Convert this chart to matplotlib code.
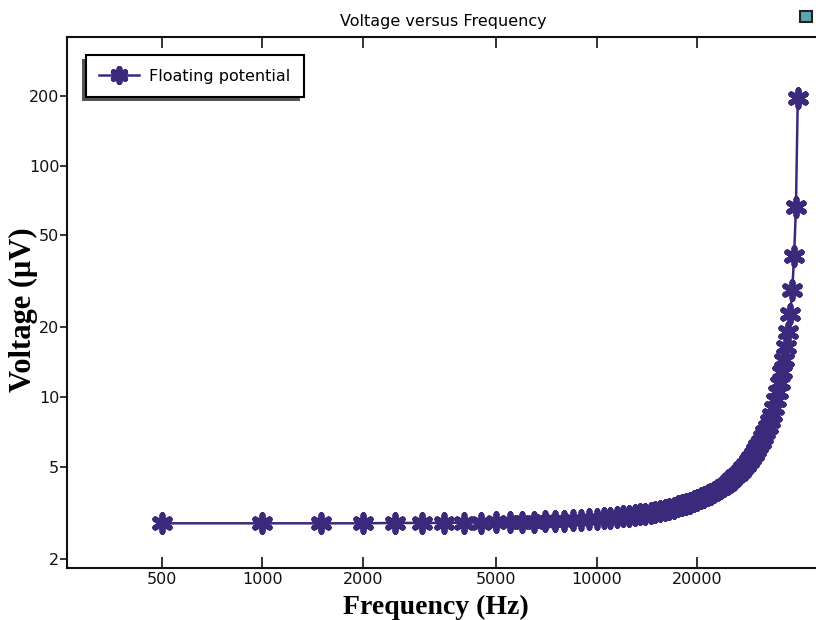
import matplotlib
matplotlib.use("Agg")
import matplotlib.pyplot as plt
from matplotlib.markers import MarkerStyle
from matplotlib.patches import Rectangle
from matplotlib.ticker import FixedLocator, FixedFormatter, NullLocator

# frequency sweep (Hz), 500 Hz steps
freq = [500, 1000, 1500, 2000, 2500, 3000, 3500, 4000, 4500, 5000,
        5500, 6000, 6500, 7000, 7500, 8000, 8500, 9000, 9500, 10000,
        10500, 11000, 11500, 12000, 12500, 13000, 13500, 14000, 14500, 15000,
        15500, 16000, 16500, 17000, 17500, 18000, 18500, 19000, 19500, 20000,
        20500, 21000, 21500, 22000, 22500, 23000, 23500, 24000, 24500, 25000,
        25500, 26000, 26500, 27000, 27500, 28000, 28500, 29000, 29500, 30000,
        30500, 31000, 31500, 32000, 32500, 33000, 33500, 34000, 34500, 35000,
        35500, 36000, 36500, 37000, 37500, 38000, 38500, 39000, 39500, 40000]

# floating potential (uV)
volt = [2.84, 2.84, 2.84, 2.84, 2.85, 2.85, 2.85, 2.86, 2.86, 2.87,
        2.87, 2.88, 2.89, 2.90, 2.91, 2.92, 2.93, 2.94, 2.96, 2.97,
        2.99, 3.00, 3.02, 3.04, 3.06, 3.08, 3.11, 3.13, 3.16, 3.19,
        3.22, 3.25, 3.28, 3.32, 3.36, 3.40, 3.44, 3.48, 3.53, 3.58,
        3.64, 3.70, 3.76, 3.82, 3.89, 3.97, 4.05, 4.13, 4.22, 4.32,
        4.42, 4.54, 4.66, 4.79, 4.93, 5.09, 5.26, 5.44, 5.65, 5.87,
        6.12, 6.39, 6.70, 7.04, 7.44, 7.88, 8.39, 8.99, 9.69, 10.5,
        11.5, 12.8, 14.4, 16.4, 19.0, 22.8, 28.9, 40.5, 66.5, 196]

xticks = [500, 1000, 2000, 5000, 10000, 20000]
yticks = [2, 5, 10, 20, 50, 100, 200]

col = '#3b2a7c'

fig = plt.figure(figsize=(8.16, 6.2), dpi=100)
# right spine sits just past the image edge, as in the original
ax = fig.add_axes([67/816, 1 - 568/620, (819 - 67)/816, (568 - 37)/620])

mk = MarkerStyle((6, 2, 0), capstyle='round', joinstyle='round')
ax.plot(freq, volt, color=col, lw=1.8, marker=mk, ms=12, mew=4.2,
        mec=col, mfc=col, label='Floating potential')

ax.set_xscale('log')
ax.set_yscale('log')
ax.set_xlim(260, 46300)
ax.set_ylim(1.82, 360)

ax.xaxis.set_major_locator(FixedLocator(xticks))
ax.xaxis.set_major_formatter(FixedFormatter([str(t) for t in xticks]))
ax.xaxis.set_minor_locator(NullLocator())
ax.yaxis.set_major_locator(FixedLocator(yticks))
ax.yaxis.set_major_formatter(FixedFormatter([str(t) for t in yticks]))
ax.yaxis.set_minor_locator(NullLocator())

ax.tick_params(axis='x', which='major', direction='in', length=8, width=1.2,
               top=True, labelsize=11.5, pad=3, colors='#111111')
ax.tick_params(axis='y', which='major', direction='out', length=5, width=1.2,
               labelsize=11.5, pad=0.5, colors='#111111')
ax.tick_params(axis='y', which='major', right=True)
for sp in ax.spines.values():
    sp.set_linewidth(1.5)
    sp.set_color('#111111')

ax.set_title('Voltage versus Frequency', fontsize=11.5, pad=8)
ax.set_xlabel('Frequency (Hz)', fontsize=20, fontweight='bold',
              family='Liberation Serif', va='center')
ax.xaxis.set_label_coords(368.5 / 752, -39 / 531)
ax.set_ylabel('Voltage (\u03bcV)', fontsize=22, fontweight='bold',
              family='Liberation Serif', va='center')
ax.yaxis.set_label_coords(-44 / 752, 0.486)

leg = ax.legend(loc='upper left', bbox_to_anchor=(0.025, 0.966),
                borderaxespad=0, fontsize=11.5, handlelength=2.5,
                handletextpad=0.6, borderpad=0.85, fancybox=False,
                framealpha=1, edgecolor='black', markerscale=0.8)
leg.get_frame().set_linewidth(1.5)
leg.set_zorder(6)

# offset grey shadow towards lower-left
fig.canvas.draw()
bb = leg.get_window_extent().transformed(ax.transAxes.inverted())
dx = 4 / 752
dy = 4 / 531
ax.add_patch(Rectangle((bb.x0 - dx, bb.y0 - dy), bb.width, bb.height,
                       transform=ax.transAxes, facecolor='#555555',
                       edgecolor='none', zorder=5.5, clip_on=False))

# small window icon in the corner
fig.patches.append(Rectangle((800/816, 1 - 22/620), 12/816, 11/620,
                             transform=fig.transFigure, facecolor='#5aa6b0',
                             edgecolor='#222222', linewidth=1.5))

fig.savefig('out.png', dpi=100)
